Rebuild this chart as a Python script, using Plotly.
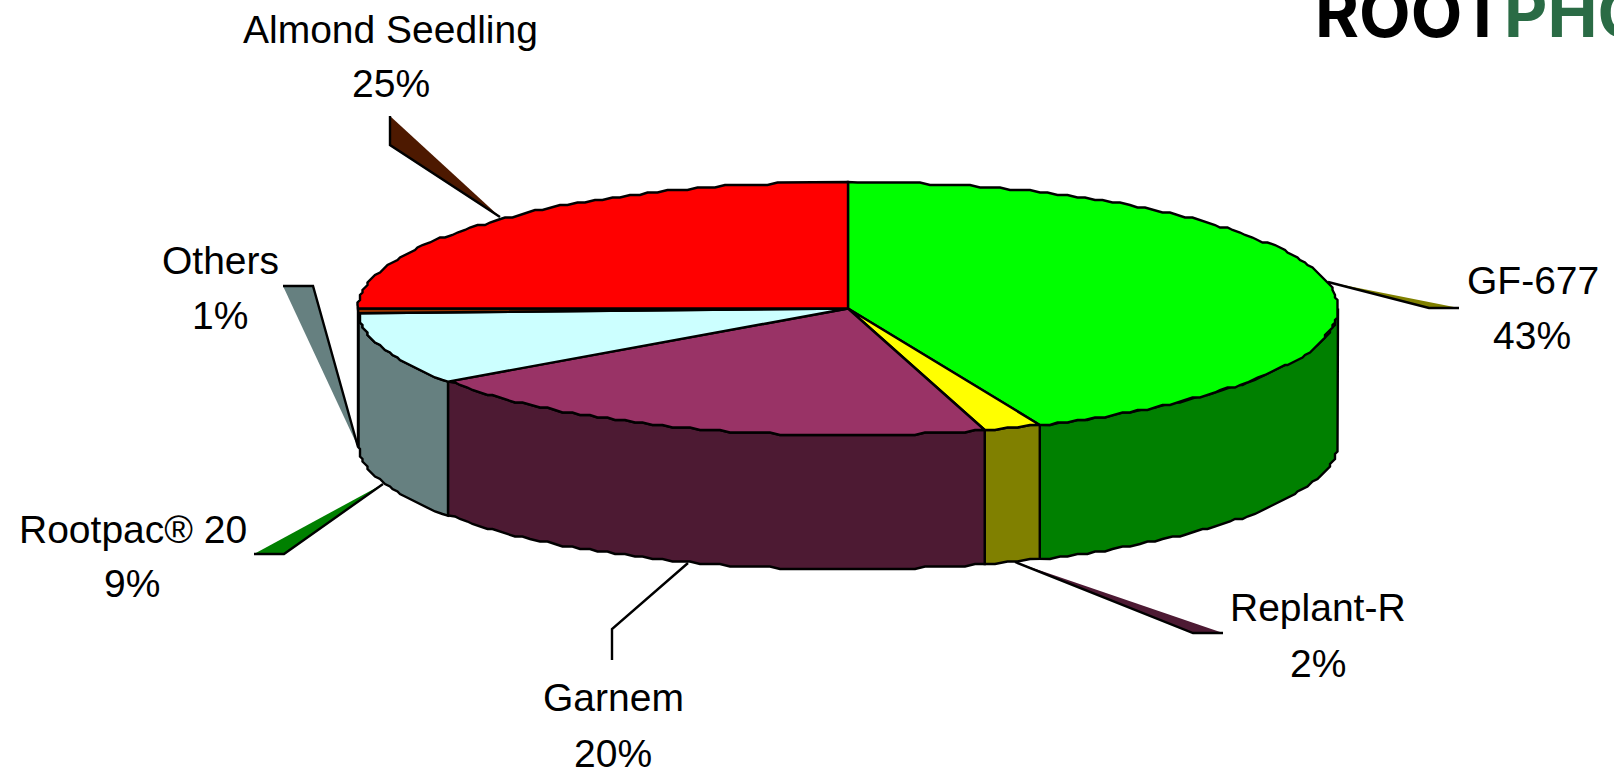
import numpy as np
import plotly.graph_objects as go

# ---- data ----
names = ["GF-677", "Replant-R", "Garnem", "Rootpac® 20", "Others", "Almond Seedling"]
values = [43.6, 1.9, 19.7, 9.2, 0.6, 25.0]
pct_labels = ["43%", "2%", "20%", "9%", "1%", "25%"]

# ---- styles ----
top_colors = ["#00FF00", "#FFFF00", "#993366", "#CCFFFF", "#993300", "#FF0000"]
side_colors = ["#008000", "#808000", "#4D1A33", "#668080", "#4D1900", "#800000"]
key_colors = ["#808000", "#4D1A33", None, "#008000", "#668080", "#4D1900"]

# ---- layout geometry (page pixels) ----
W, H = 1614, 778
CX, CY, RX, RY, DEPTH = 848, 308.5, 490, 126.5, 134
GRID = 2.5
LW = 2.4
FONT = "Liberation Sans"
FS = 39

label_pos = {
    "GF-677": ((1533, 280), (1532, 335)),
    "Replant-R": ((1318, 607), (1318, 663)),
    "Garnem": ((613, 697), (613, 753)),
    "Rootpac® 20": ((133, 529), (132, 583)),
    "Others": ((220, 260), (220, 315)),
    "Almond Seedling": ((390, 29), (391, 83)),
}
# (filled wedge, black leader line)
leader_pos = {
    "GF-677": ([(1328, 282), (1429, 308), (1459, 308)], [(1328, 282), (1429, 308), (1459, 308)]),
    "Replant-R": ([(1015, 562), (1193, 633), (1223, 633)], [(1015, 562), (1193, 633), (1223, 633)]),
    "Garnem": (None, [(688, 563), (612, 629), (612, 660)]),
    "Rootpac® 20": ([(383, 484), (254, 554), (284, 554)], [(383, 484), (284, 554), (254, 554)]),
    "Others": ([(358, 447), (283, 286), (313, 286)], [(358, 447), (313, 286), (283, 286)]),
    "Almond Seedling": ([(500, 217), (390, 116), (390, 145)], [(500, 217), (390, 145), (390, 116)]),
}


def arc(a0, a1):
    """Rim points for clockwise angles (degrees from 12 o'clock)."""
    n = max(2, int(abs(a1 - a0) / 1.2) + 1)
    t = np.radians(np.linspace(a0, a1, n))
    x = CX + RX * np.sin(t)
    y = CY - RY * np.cos(t)
    xs = np.round(x / GRID) * GRID
    ys = np.round(y / GRID) * GRID
    xs[[0, -1]] = x[[0, -1]]
    ys[[0, -1]] = y[[0, -1]]
    return xs, ys


fig = go.Figure()


def poly(xs, ys, fill):
    fig.add_trace(go.Scatter(
        x=list(xs), y=list(ys), mode="lines", fill="toself", fillcolor=fill,
        line=dict(color="black", width=LW, shape="linear"),
        hoverinfo="skip", showlegend=False))


total = sum(values)
edges = np.cumsum([0] + values) / total * 360

# leader wedges and lines sit behind the pie
for name, key in zip(names, key_colors):
    wedge, line = leader_pos[name]
    if wedge:
        fig.add_trace(go.Scatter(
            x=[p[0] for p in wedge] + [wedge[0][0]], y=[p[1] for p in wedge] + [wedge[0][1]],
            mode="lines", fill="toself", fillcolor=key, line=dict(width=0, color=key),
            hoverinfo="skip", showlegend=False))
    fig.add_trace(go.Scatter(
        x=[p[0] for p in line], y=[p[1] for p in line], mode="lines",
        line=dict(color="black", width=LW), hoverinfo="skip", showlegend=False))

# side walls: only the front half of the rim is visible
for i, color in enumerate(side_colors):
    a0, a1 = max(edges[i], 90), min(edges[i + 1], 270)
    if a1 <= a0:
        continue
    xs, ys = arc(a0, a1)
    poly(np.r_[xs, xs[::-1], xs[0]], np.r_[ys, ys[::-1] + DEPTH, ys[0]], color)

# top face
for i, color in enumerate(top_colors):
    xs, ys = arc(edges[i], edges[i + 1])
    poly(np.r_[CX, xs, CX], np.r_[CY, ys, CY], color)

# labels
ann = []
for name, pct in zip(names, pct_labels):
    for text, (x, y) in zip((name, pct), label_pos[name]):
        ann.append(dict(x=x, y=y, xref="x", yref="y", text=text, showarrow=False,
                        xanchor="center", yanchor="middle",
                        font=dict(family=FONT, size=FS, color="black")))
# logo, cut off by the page edges
ann.append(dict(x=1313, y=40, xref="x", yref="y", text="ROOT", showarrow=False, xanchor="left",
                yanchor="bottom", yshift=-15, font=dict(family="Inter", size=67, color="black", weight=700)))
ann.append(dict(x=1502, y=40, xref="x", yref="y", text="PHO", showarrow=False, xanchor="left",
                yanchor="bottom", yshift=-15, font=dict(family="Inter", size=67, color="#2A6B45", weight=700)))

fig.update_layout(
    width=W, height=H, margin=dict(l=0, r=0, t=0, b=0),
    paper_bgcolor="white", plot_bgcolor="white", showlegend=False,
    xaxis=dict(visible=False, range=[0, W], fixedrange=True),
    yaxis=dict(visible=False, range=[H, 0], fixedrange=True),
    annotations=ann,
)
fig.write_html("out.html", config=dict(displayModeBar=False),
               post_script="document.body.style.margin='0';document.documentElement.style.overflow='hidden';")
